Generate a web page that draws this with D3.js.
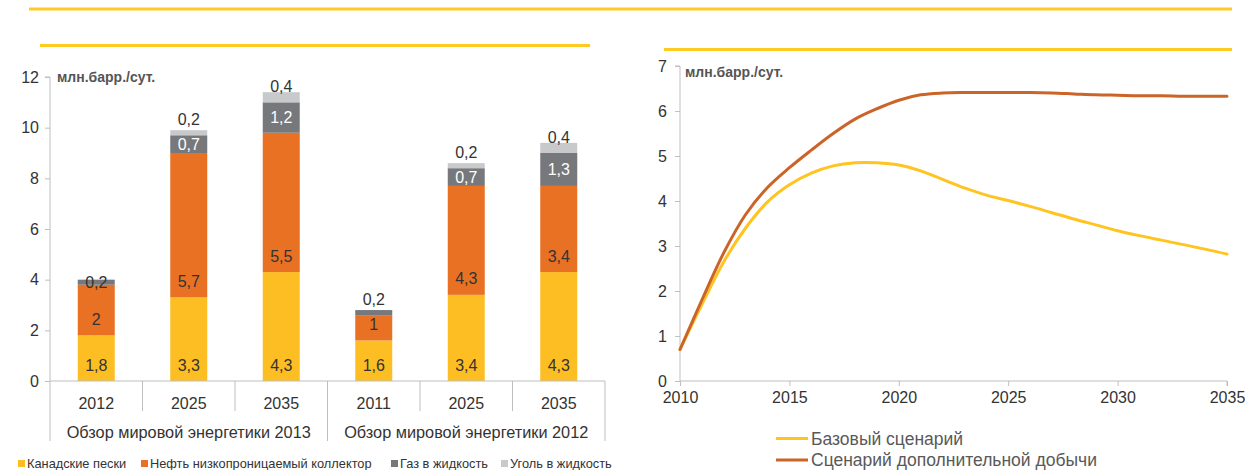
<!DOCTYPE html>
<html><head><meta charset="utf-8">
<script src="https://cdnjs.cloudflare.com/ajax/libs/d3/7.8.5/d3.min.js"></script>
<style>
html,body{margin:0;padding:0;background:#fff;}
svg{display:block;font-family:"Liberation Sans",Arial,sans-serif;}
</style></head>
<body>
<svg id="c" width="1245" height="470"></svg>
<script>
// ---- Left chart data ----
const categories = ["2012","2025","2035","2011","2025","2035"];
const groups = ["Обзор мировой энергетики 2013","Обзор мировой энергетики 2012"];
const groupSizes = [3,3];
const oilSands = [1.8,3.3,4.3,1.6,3.4,4.3];
const tightOil = [2,5.7,5.5,1,4.3,3.4];
const gasToLiquids = [0.2,0.7,1.2,0.2,0.7,1.3];
const coalToLiquids = [0,0.2,0.4,0,0.2,0.4];
const seriesNames = ["Канадские пески","Нефть низкопроницаемый коллектор","Газ в жидкость","Уголь в жидкость"];
const leftTicks = [0,2,4,6,8,10,12];
const unitLabel = "млн.барр./сут.";

// ---- Right chart data ----
const years = [2010,2011,2012,2013,2014,2015,2016,2017,2018,2019,2020,2021,2022,2023,2024,2025,2026,2027,2028,2029,2030,2031,2032,2033,2034,2035];
const baseScenario = [0.7,1.7,2.65,3.4,3.98,4.36,4.62,4.78,4.85,4.85,4.8,4.67,4.48,4.29,4.13,4.01,3.88,3.74,3.6,3.47,3.34,3.23,3.13,3.03,2.93,2.82];
const extraScenario = [0.7,1.8,2.85,3.7,4.3,4.74,5.13,5.5,5.82,6.05,6.24,6.36,6.4,6.41,6.41,6.41,6.41,6.4,6.38,6.36,6.35,6.34,6.34,6.33,6.33,6.33];
const lineNames = ["Базовый сценарий","Сценарий дополнительной добычи"];
const rightYTicks = [0,1,2,3,4,5,6,7];
const rightXTicks = [2010,2015,2020,2025,2030,2035];

const colors = ["#FDBE24","#E87124","#77787B","#C8C9CB"];
const lineColors = ["#FFC420","#CB6428"];
const gold = "#FFCB22";
const axisGrey = "#BFBFBF";
const textCol = "#333333";

const svg = d3.select("#c");

// header lines
svg.append("rect").attr("x",29).attr("y",7.5).attr("width",1203).attr("height",3).attr("fill",gold);
svg.append("rect").attr("x",40).attr("y",44).attr("width",550).attr("height",3).attr("fill",gold);
svg.append("rect").attr("x",664).attr("y",48).attr("width",568).attr("height",3).attr("fill",gold);

// ================= LEFT =================
const L = {x0:50,x1:605,y0:381,y1:77};
const xB = d3.scaleBand().domain(d3.range(categories.length)).range([L.x0,L.x1]).paddingInner(0).paddingOuter(0);
const yL = d3.scaleLinear().domain([0,12]).range([L.y0,L.y1]);
const barW = xB.bandwidth()*0.4;

const table = categories.map((c,i)=>({i,c,v:[oilSands[i],tightOil[i],gasToLiquids[i],coalToLiquids[i]]}));
const stack = d3.stack().keys([0,1,2,3]).value((d,k)=>d.v[k]);
const stacked = stack(table);

const gL = svg.append("g");
stacked.forEach((layer,k)=>{
  gL.selectAll(null).data(layer.filter(d=>d[1]-d[0]>0)).enter().append("rect")
    .attr("x",d=>xB(d.data.i)+(xB.bandwidth()-barW)/2)
    .attr("y",d=>yL(d[1]))
    .attr("width",barW)
    .attr("height",d=>yL(d[0])-yL(d[1]))
    .attr("fill",colors[k]);
});

// axes
const yAxL = d3.axisLeft(yL).tickValues(leftTicks).tickSize(5).tickPadding(6).tickFormat(d3.format("d"));
const gy = svg.append("g").attr("transform",`translate(${L.x0},0)`).call(yAxL);
gy.select(".domain").attr("stroke",axisGrey).attr("d",`M-5,${L.y1}H0V${L.y0}`);
gy.selectAll(".tick line").attr("stroke",axisGrey);
gy.selectAll(".tick text").attr("fill",textCol).style("font-size","16px").style("font-family","Liberation Sans, Arial, sans-serif");

// x axis line and separators
svg.append("line").attr("x1",L.x0).attr("x2",L.x1).attr("y1",L.y0).attr("y2",L.y0).attr("stroke",axisGrey);
let cum=0;
const groupBounds=[0];
groupSizes.forEach(s=>{cum+=s;groupBounds.push(cum);});
for(let i=0;i<=categories.length;i++){
  const x = i<categories.length? xB(i) : L.x1;
  const long = groupBounds.includes(i);
  svg.append("line").attr("x1",x).attr("x2",x).attr("y1",L.y0).attr("y2",long?441:411).attr("stroke",axisGrey);
}
svg.selectAll(null).data(categories).enter().append("text")
  .attr("x",(d,i)=>xB(i)+xB.bandwidth()/2).attr("y",403).attr("dy","0.35em")
  .attr("text-anchor","middle").attr("fill",textCol).style("font-size","16px").text(d=>d);
groups.forEach((g,j)=>{
  const a = xB(groupBounds[j]);
  const b = groupBounds[j+1]<categories.length? xB(groupBounds[j+1]) : L.x1;
  svg.append("text").attr("x",(a+b)/2).attr("y",432).attr("dy","0.35em").attr("text-anchor","middle")
    .attr("fill",textCol).style("font-size","16.3px").text(g);
});

// value labels
const fmt = v=>String(v).replace(".",",");
const centeredLabels = new Set(["2-0"]);
stacked.forEach((layer,k)=>{
  layer.forEach(d=>{
    const val = d[1]-d[0];
    if(val<=0) return;
    const i=d.data.i;
    const bottom=yL(d[0]), top=yL(d[1]);
    let y = bottom-16;
    const white = (k===2 && val>=0.5);
    if(centeredLabels.has(k+"-"+i) || white) y=(bottom+top)/2;
    gL.append("text").attr("x",xB(i)+xB.bandwidth()/2).attr("y",y).attr("dy","0.35em")
      .attr("text-anchor","middle").attr("fill",white?"#ffffff":textCol)
      .style("font-size","16px").text(fmt(+val.toFixed(1)));
  });
});

svg.append("text").attr("x",57).attr("y",77).attr("dy","0.35em").attr("fill","#555")
  .style("font-size","14px").style("font-weight","bold").text(unitLabel);

// legend left
const legX=[18,141,391,501];
seriesNames.forEach((n,k)=>{
  svg.append("rect").attr("x",legX[k]).attr("y",460).attr("width",7).attr("height",7).attr("fill",colors[k]);
  svg.append("text").attr("x",legX[k]+9).attr("y",463.5).attr("dy","0.35em").attr("fill",textCol)
    .style("font-size","12.8px").text(n);
});

// ================= RIGHT =================
const R = {x0:680,x1:1227,y0:381,y1:66};
const xR = d3.scaleLinear().domain([2010,2035]).range([R.x0,R.x1]);
const yR = d3.scaleLinear().domain([0,7]).range([R.y0,R.y1]);

const gyR = svg.append("g").attr("transform",`translate(${R.x0},0)`)
  .call(d3.axisLeft(yR).tickValues(rightYTicks).tickSize(5).tickPadding(8).tickFormat(d3.format("d")));
gyR.select(".domain").attr("stroke",axisGrey).attr("d",`M-5,${R.y1}H0V${R.y0}`);
gyR.selectAll(".tick line").attr("stroke",axisGrey);
gyR.selectAll(".tick text").attr("fill",textCol).style("font-size","16px").style("font-family","Liberation Sans, Arial, sans-serif");

const gxR = svg.append("g").attr("transform",`translate(0,${R.y0})`)
  .call(d3.axisBottom(xR).tickValues(rightXTicks).tickSize(5).tickPadding(6).tickFormat(d3.format("d")));
gxR.select(".domain").attr("stroke",axisGrey).attr("d",`M${R.x0},0H${R.x1}V5`);
gxR.selectAll(".tick line").attr("stroke",axisGrey);
gxR.selectAll(".tick text").attr("fill",textCol).style("font-size","16px").style("font-family","Liberation Sans, Arial, sans-serif");

const line = d3.line().x((d,i)=>xR(years[i])).y(d=>yR(d)).curve(d3.curveCatmullRom.alpha(0.5));
svg.append("path").attr("d",line(baseScenario)).attr("fill","none").attr("stroke",lineColors[0]).attr("stroke-width",3).attr("stroke-linecap","round");
svg.append("path").attr("d",line(extraScenario)).attr("fill","none").attr("stroke",lineColors[1]).attr("stroke-width",3).attr("stroke-linecap","round");

svg.append("text").attr("x",685).attr("y",72).attr("dy","0.35em").attr("fill","#555")
  .style("font-size","14px").style("font-weight","bold").text(unitLabel);

lineNames.forEach((n,k)=>{
  const y = 438.5+k*21.5;
  svg.append("line").attr("x1",776).attr("x2",808).attr("y1",y).attr("y2",y).attr("stroke",lineColors[k]).attr("stroke-width",3);
  svg.append("text").attr("x",811).attr("y",y).attr("dy","0.35em").attr("fill","#595959").style("font-size","17.5px").text(n);
});
</script>
</body></html>
